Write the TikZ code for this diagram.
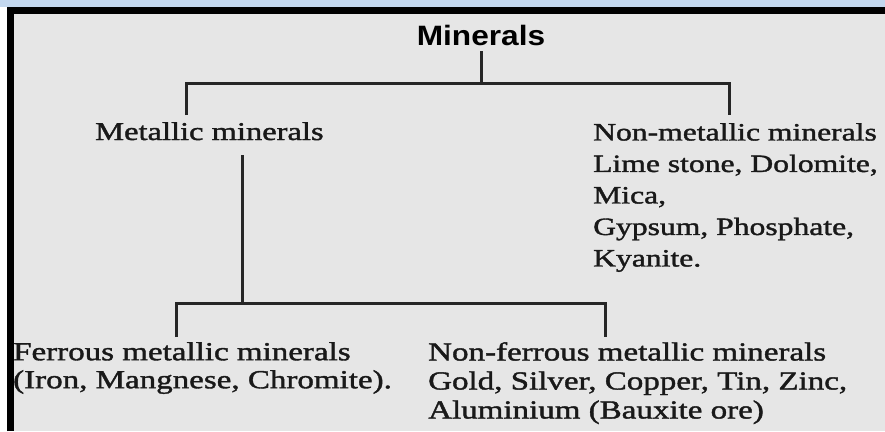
\documentclass[tikz,border=0pt]{standalone}
\usepackage{fontspec}
\newfontfamily\serifwide[FakeStretch=1.27, FakeBold=1.5]{Liberation Serif}
\newfontfamily\sanswide[FakeStretch=1.13]{Liberation Sans}
\definecolor{panelgrey}{HTML}{E6E6E6}
\definecolor{stripblue}{HTML}{C3D7EE}
\tikzset{
  link/.style={line width=3pt, draw=black!85},
  leaf/.style={font=\serifwide\fontsize{26}{31}\selectfont, inner sep=0pt, align=left, text=black!90},
}

\begin{document}
\begin{tikzpicture}[x=1pt, y=-1pt]

  % --- Frame ---
  \useasboundingbox (0,0) rectangle (885,431);
  \fill[white] (0,0) rectangle (885,431);
  \fill[stripblue] (0,0) rectangle (885,7);
  \fill[panelgrey] (7,7) rectangle (885,431);
  \draw[line width=7pt] (10.5,431) -- (10.5,10.5) -- (885,10.5);

  % --- Labels ---
  \node[font=\sanswide\bfseries\fontsize{28}{32}\selectfont, inner sep=0pt, anchor=base] (minerals) at (481,45) {Minerals};
  \node[leaf, anchor=base west, font=\serifwide\fontsize{25.6}{31}\selectfont] (metallic) at (95,140) {Metallic minerals};
  \node[leaf, anchor=north west, font=\serifwide\fontsize{24.9}{31.5}\selectfont] (nonmetallic) at (593,123)
    {Non-metallic minerals\\Lime stone, Dolomite,\\Mica,\\Gypsum, Phosphate,\\Kyanite.};
  \node[leaf, anchor=north west, font=\serifwide\fontsize{26}{28}\selectfont] (ferrous) at (13,342)
    {Ferrous metallic minerals\\(Iron, Mangnese, Chromite).};
  \node[leaf, anchor=north west, font=\serifwide\fontsize{26}{29}\selectfont] (nonferrous) at (428,342)
    {Non-ferrous metallic minerals\\Gold, Silver, Copper, Tin, Zinc,\\Aluminium (Bauxite ore)};

  % --- Connectors ---
  \coordinate (hub1) at (minerals.south |- 0,83);
  \coordinate (hub2) at ([xshift=147pt]metallic.south west |- 0,303);
  \draw[link] ([yshift=-6pt]minerals.south) -- (hub1);
  \draw[link] ([xshift=91pt,yshift=7pt]metallic.north west) |- (hub1)
    -| ([xshift=136pt,yshift=8pt]nonmetallic.north west);
  \draw[link] ([xshift=147pt,yshift=-15pt]metallic.south west) -- (hub2);
  \draw[link] ([xshift=163pt,yshift=5pt]ferrous.north west) |- (hub2)
    -| ([xshift=177pt,yshift=5pt]nonferrous.north west);

\end{tikzpicture}
\end{document}
